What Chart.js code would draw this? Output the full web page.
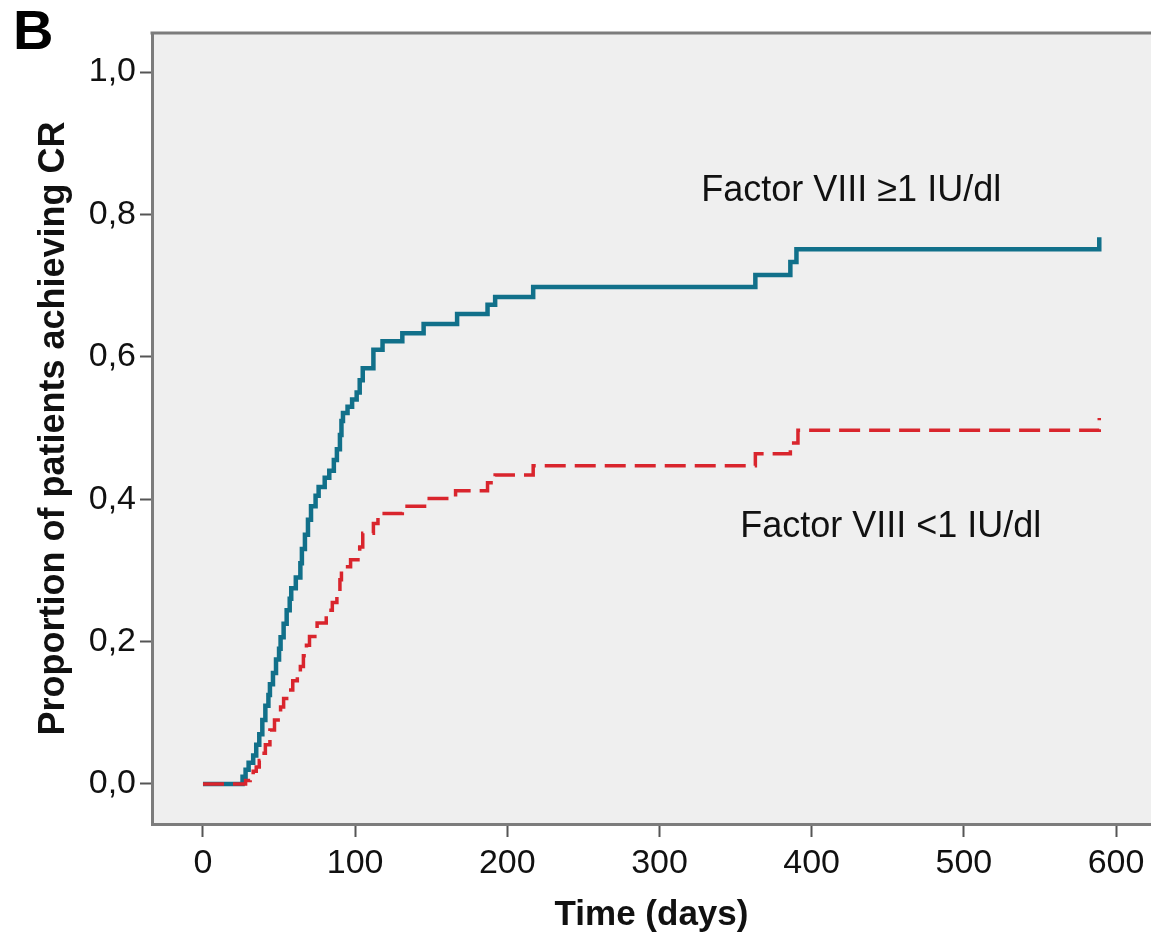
<!DOCTYPE html>
<html>
<head>
<meta charset="utf-8">
<script src="https://cdn.jsdelivr.net/npm/chart.js@4/dist/chart.umd.min.js"></script>
<style>
  body { margin: 0; background: #fff; }
  #wrap { position: relative; width: 1151px; height: 942px; }
  #panel {
    position: absolute; left: 13px; top: 2px;
    font: bold 56px "Liberation Sans", Arial, sans-serif; line-height: 1; color: #000;
  }
</style>
</head>
<body>
<div id="wrap">
  <canvas id="kmChart" width="1151" height="942"></canvas>
  <div id="panel">B</div>
</div>
<script>
// Kaplan-Meier style cumulative proportion reaching CR
const highDays = [0, 26, 28, 30, 33, 35, 37, 39, 41, 43, 44, 46, 48, 50, 51, 53, 55, 57, 58, 61, 64, 65, 67, 69, 71, 74, 76, 80, 83, 86, 88, 90, 91, 92, 95, 98, 101, 103, 105, 112, 118, 131, 145, 167, 187, 192, 217, 363, 386, 390, 589];
const highProp = [0, 0.01, 0.02, 0.03, 0.04, 0.055, 0.07, 0.09, 0.11, 0.125, 0.14, 0.156, 0.175, 0.19, 0.206, 0.225, 0.244, 0.26, 0.275, 0.29, 0.31, 0.33, 0.35, 0.371, 0.39, 0.405, 0.417, 0.43, 0.44, 0.455, 0.47, 0.49, 0.51, 0.521, 0.53, 0.54, 0.55, 0.567, 0.584, 0.61, 0.622, 0.633, 0.646, 0.66, 0.673, 0.684, 0.698, 0.715, 0.733, 0.751, 0.768];

const lowDays = [0, 28, 31, 33, 35, 37, 39, 41, 44, 47, 51, 53, 55, 59, 62, 64, 66, 68, 70, 75, 81, 85, 88, 90, 91, 97, 103, 105, 112, 115, 131, 147, 166, 187, 192, 217, 363, 386, 391, 589];
const lowProp = [0, 0.005, 0.012, 0.018, 0.024, 0.033, 0.043, 0.055, 0.076, 0.09, 0.108, 0.12, 0.132, 0.145, 0.155, 0.165, 0.18, 0.195, 0.207, 0.226, 0.244, 0.255, 0.263, 0.287, 0.305, 0.315, 0.333, 0.352, 0.366, 0.38, 0.39, 0.401, 0.412, 0.423, 0.434, 0.447, 0.464, 0.479, 0.497, 0.514];

const groupNames = ["Factor VIII \u22651 IU/dl", "Factor VIII <1 IU/dl"];
const xTicks = [0, 100, 200, 300, 400, 500, 600];
const yTicks = [0, 0.2, 0.4, 0.6, 0.8, 1.0];

const family = '"Liberation Sans", Arial, sans-serif';

// grey plot box, top border and the curve labels
const plotFrame = {
  id: "plotFrame",
  beforeDraw(chart) {
    const { ctx, chartArea: a } = chart;
    ctx.save();
    ctx.fillStyle = "#efefef";
    ctx.fillRect(a.left, a.top, a.right - a.left, a.bottom - a.top);
    ctx.strokeStyle = "#7c7c7c";
    ctx.lineWidth = 3;
    ctx.beginPath();
    ctx.moveTo(a.left - 1.5, a.top);
    ctx.lineTo(a.right, a.top);
    ctx.stroke();
    ctx.restore();
  },
  afterDatasetsDraw(chart) {
    const { ctx, scales: { x, y } } = chart;
    ctx.save();
    ctx.font = "36px " + family;
    ctx.fillStyle = "#111";
    ctx.textAlign = "center";
    ctx.textBaseline = "middle";
    ctx.fillText(groupNames[0], x.getPixelForValue(426), y.getPixelForValue(0.833));
    ctx.fillText(groupNames[1], x.getPixelForValue(452), y.getPixelForValue(0.361));
    ctx.restore();
  },
};

const ctx = document.getElementById("kmChart").getContext("2d");
new Chart(ctx, {
  type: "line",
  data: {
    datasets: [
      {
        label: groupNames[0],
        data: highDays.map((d, i) => ({ x: d, y: highProp[i] })),
        borderColor: "#11708a",
        borderWidth: 4.5,
        stepped: "before",
        pointRadius: 0,
        fill: false,
        order: 1,
      },
      {
        label: groupNames[1],
        data: lowDays.map((d, i) => ({ x: d, y: lowProp[i] })),
        borderColor: "#d9252d",
        borderWidth: 3.5,
        borderDash: [21, 9],
        stepped: "before",
        pointRadius: 0,
        fill: false,
        order: 0,
      },
    ],
  },
  options: {
    responsive: false,
    animation: false,
    layout: { padding: { top: 33, left: 0, right: 0, bottom: 0 } },
    plugins: {
      legend: { display: false },
      tooltip: { enabled: false },
    },
    scales: {
      x: {
        type: "linear",
        min: -33.5,
        max: 623,
        afterBuildTicks: (s) => { s.ticks = xTicks.map((v) => ({ value: v })); },
        afterFit: (s) => { s.height = 118; },
        grid: { drawOnChartArea: false, drawTicks: true, tickLength: 13, tickWidth: 2, tickColor: "#555" },
        border: { display: true, color: "#7c7c7c", width: 3 },
        ticks: { color: "#111", font: { size: 34, family }, padding: 6, maxRotation: 0, autoSkip: false },
        title: {
          display: true,
          text: "Time (days)",
          color: "#111",
          font: { size: 35, weight: "bold", family },
          padding: { top: 0, bottom: 6 },
        },
      },
      y: {
        min: -0.0562,
        max: 1.0548,
        afterBuildTicks: (s) => { s.ticks = yTicks.map((v) => ({ value: v })); },
        afterFit: (s) => { s.width = 152; },
        grid: { drawOnChartArea: false, drawTicks: true, tickLength: 12, tickWidth: 2, tickColor: "#555" },
        border: { display: true, color: "#7c7c7c", width: 3 },
        ticks: {
          color: "#111",
          font: { size: 34, family },
          padding: 4,
          callback: (v) => v.toFixed(1).replace(".", ","),
        },
        title: {
          display: true,
          text: "Proportion of patients achieving CR",
          color: "#111",
          font: { size: 36, weight: "bold", family },
          padding: { top: 32, bottom: 0 },
        },
      },
    },
  },
  plugins: [plotFrame],
});
</script>
</body>
</html>
